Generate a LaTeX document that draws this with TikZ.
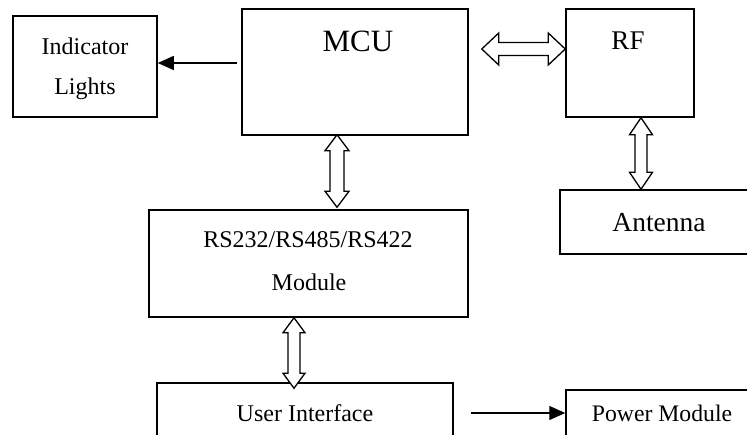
\documentclass[tikz,border=0pt]{standalone}
\usepackage{fontspec}
\setmainfont{Liberation Serif}
\usetikzlibrary{calc,arrows.meta}
\tikzset{
  box/.style 2 args={draw, line width=1.5pt, inner sep=0pt, minimum width=#1, minimum height=#2},
  txt/.style={inner sep=0pt, anchor=base},
  dbl/.style={draw, line width=1.3pt, line join=miter, fill=white},
  onearrow/.style={draw, line width=1.4pt, -{Triangle[length=16pt,width=14pt]}},
}
\newcommand\dblvert[5]{%
  \draw[dbl] (#1) -- ++(#3,#5) -- ++({#4-#3},0) -- ($(#2)+(#4,-#5)$) -- ++({#3-#4},0) -- (#2)
    -- ++(-#3,-#5) -- ++({#3-#4},0) -- ($(#1)+(-#4,#5)$) -- ++({#4-#3},0) -- cycle;}
\newcommand\dblhoriz[5]{%
  \draw[dbl] (#1) -- ++(#5,-#3) -- ++(0,{#3-#4}) -- ($(#2)+(-#5,-#4)$) -- ++(0,{#4-#3}) -- (#2)
    -- ++(-#5,#3) -- ++(0,{#4-#3}) -- ($(#1)+(#5,#4)$) -- ++(0,{#3-#4}) -- cycle;}
\begin{document}
\begin{tikzpicture}[x=1pt,y=-1pt]
  \useasboundingbox (0,0) rectangle (747,435);
  \clip (0,0) rectangle (747,435);
  % boxes
  \node[box={144pt}{101pt}] (ind) at (85,66.5) {};
  \node[box={226pt}{126pt}] (mcu) at (355,72) {};
  \node[box={128pt}{108pt}] (rf) at (630,63) {};
  \node[box={200pt}{64pt}] (ant) at (660,222) {};
  \node[box={319pt}{107pt}] (rs) at (308.5,263.5) {};
  \node[box={296pt}{67pt}] (ui) at (305,416.5) {};
  \node[box={194pt}{60pt}] (pwr) at (663,420) {};
  % texts
  \node[txt, font=\fontsize{24}{28}\selectfont] (indt1) at (85,55) {Indicator};
  \node[txt, font=\fontsize{24}{28}\selectfont] (indt2) at (85,95) {Lights};
  \node[txt, font=\fontsize{31}{36}\selectfont] (mcut) at (358,52) {MCU};
  \node[txt, font=\fontsize{27}{30}\selectfont] (rft) at (628,50) {RF};
  \node[txt, font=\fontsize{27.5}{32}\selectfont] (antt) at (659,232) {Antenna};
  \node[txt, font=\fontsize{24}{28}\selectfont] (rst1) at (308,248) {RS232/RS485/RS422};
  \node[txt, font=\fontsize{24}{28}\selectfont] (rst2) at (309,291) {Module};
  \node[txt, font=\fontsize{24}{28}\selectfont] (uit) at (305,421) {User Interface};
  \node[txt, font=\fontsize{23.7}{28}\selectfont] (pwrt) at (662,421) {Power Module};
  % single arrows
  \coordinate (i1) at ($(mcu.west)+(-4,-9)$);
  \draw[onearrow] (i1) -- (i1 -| ind.east);
  \coordinate (p1) at ($(ui.east)+(17,-3.5)$);
  \draw[onearrow] (p1) -- (p1 -| pwr.west);
  % double arrows
  \coordinate (h1a) at ($(mcu.east)+(13,-23)$);
  \coordinate (h1b) at (rf.west |- h1a);
  \dblhoriz{h1a}{h1b}{16}{6.5}{17}
  \coordinate (v1a) at ($(rf.south)+(11,0)$);
  \coordinate (v1b) at (v1a |- ant.north);
  \dblvert{v1a}{v1b}{11.5}{6}{17}
  \coordinate (v2a) at ($(mcu.south)+(-18,-1)$);
  \coordinate (v2b) at ($(v2a |- rs.north)+(0,-2)$);
  \dblvert{v2a}{v2b}{12}{7}{16}
  \coordinate (v3a) at ($(rs.south)+(-14.5,0)$);
  \coordinate (v3b) at ($(v3a |- ui.north)+(0,6)$);
  \dblvert{v3a}{v3b}{11}{6}{15}
\end{tikzpicture}
\end{document}
